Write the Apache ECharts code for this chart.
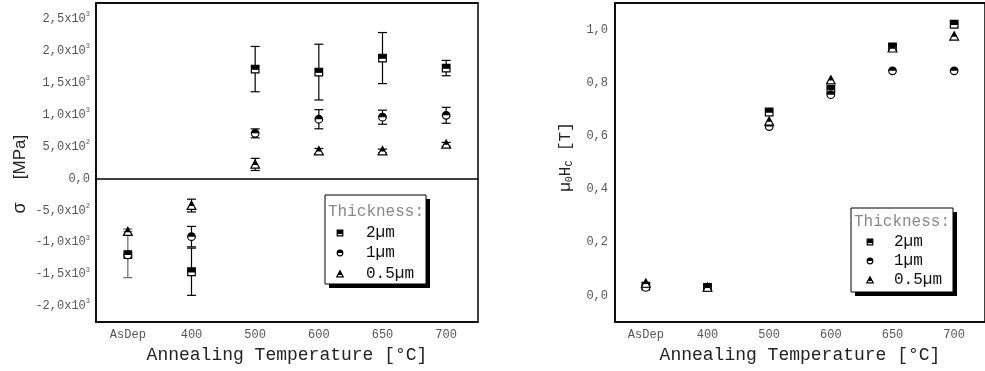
<!DOCTYPE html>
<html>
<head>
<meta charset="utf-8">
<script src="https://cdn.jsdelivr.net/npm/echarts@6/dist/echarts.min.js"></script>
<style>
  html, body { margin: 0; padding: 0; background: #fff; }
  #chart { width: 985px; height: 371px; }
</style>
</head>
<body>
<div id="chart"></div>
<script>
// annealing temperatures (x categories)
const categories = ['AsDep', '400', '500', '600', '650', '700'];

// residual stress sigma [MPa] with error bars
const stress2um = [-1195, -1462, 1714, 1667, 1887, 1730];
const stress2umErr = [360, 370, 355, 437, 400, 120];
const stress1um = [-1200, -912, 707, 928, 960, 990];
const stress1umErr = [30, 160, 70, 150, 110, 125];
const stress05um = [-833, -425, 220, 430, 430, 535];
const stress05umErr = [40, 100, 95, 40, 30, 30];

// coercive field mu0Hc [T]
const hc2um = [0.035, 0.03, 0.69, 0.775, 0.935, 1.02];
const hc1um = [0.03, 0.03, 0.635, 0.755, 0.845, 0.845];
const hc05um = [0.045, 0.03, 0.655, 0.81, 0.93, 0.975];

const legendNames = ['2µm', '1µm', '0.5µm'];
const legendKinds = ['square', 'circle', 'triangle'];

const MONO = 'Liberation Mono';
const chart = echarts.init(document.getElementById('chart'));

// half filled marker, top part black
function marker(kind, x, y, r, part) {
    const outline = { fill: '#fff', stroke: '#000', lineWidth: 1.2 };
    part = part || 0.6;
    if (kind === 'square') {
        return [
            { type: 'rect', shape: { x: x - r, y: y - r, width: 2 * r, height: 2 * r }, style: outline },
            { type: 'rect', shape: { x: x - r, y: y - r, width: 2 * r, height: 2 * r * part }, style: { fill: '#000' } }
        ];
    }
    if (kind === 'circle') {
        return [
            { type: 'circle', shape: { cx: x, cy: y, r: r }, style: outline },
            { type: 'sector', shape: { cx: x, cy: y, r: r, r0: 0, startAngle: Math.PI, endAngle: 2 * Math.PI }, style: { fill: '#000' } }
        ];
    }
    const h = r * 1.15;
    const cut = y - h + (h + r) * part;
    const hw = h * (cut - (y - h)) / (h + r);
    return [
        { type: 'polygon', shape: { points: [[x, y - h], [x + h, y + r], [x - h, y + r]] }, style: outline },
        { type: 'polygon', shape: { points: [[x, y - h], [x + hw, cut], [x - hw, cut]] }, style: { fill: '#000' } }
    ];
}

function pointSeries(name, xIdx, yIdx, vals, errs, kind) {
    return {
        name: name,
        type: 'custom',
        xAxisIndex: xIdx,
        yAxisIndex: yIdx,
        data: vals.map((v, i) => [i, v, errs ? errs[i] : 0]),
        renderItem: function (params, api) {
            const i = api.value(0), v = api.value(1), e = api.value(2);
            const p = api.coord([i, v]);
            const children = [];
            if (e > 0) {
                const t = api.coord([i, v + e])[1];
                const b = api.coord([i, v - e])[1];
                const c = params.dataIndex === 0 ? '#666' : '#000';
                const ls = { stroke: c, lineWidth: 1.2 };
                children.push({ type: 'line', shape: { x1: p[0], y1: t, x2: p[0], y2: b }, style: ls });
                children.push({ type: 'line', shape: { x1: p[0] - 4.5, y1: t, x2: p[0] + 4.5, y2: t }, style: ls });
                children.push({ type: 'line', shape: { x1: p[0] - 4.5, y1: b, x2: p[0] + 4.5, y2: b }, style: ls });
            }
            return { type: 'group', children: children.concat(marker(kind, p[0], p[1], 3.8)) };
        }
    };
}

function sciLabel(v) {
    if (Math.abs(v) < 1e-9) return '{a|0,0}';
    const exp = Math.floor(Math.log10(Math.abs(v)) + 1e-9);
    const mant = v / Math.pow(10, exp);
    return '{a|' + mant.toFixed(1).replace('.', ',') + 'x10}{s|' + exp + '}';
}

const labelRich = {
    a: { fontFamily: MONO, fontSize: 12, color: '#555' },
    s: { fontFamily: MONO, fontSize: 7, color: '#555', verticalAlign: 'top', lineHeight: 16 }
};

function xAxes(grid, withName) {
    const line = { show: true, onZero: false, lineStyle: { color: '#000', width: 1.5 } };
    return [
        {
            type: 'category', gridIndex: grid, position: 'bottom', data: categories,
            axisLine: line,
            axisTick: { inside: true, alignWithLabel: true, length: 5, lineStyle: { color: '#000', width: 1.2 } },
            axisLabel: { fontFamily: MONO, fontSize: 12, color: '#555', margin: 7 },
            name: withName, nameLocation: 'middle', nameGap: 23,
            nameTextStyle: { fontFamily: MONO, fontSize: 18, color: '#222' }
        },
        {
            type: 'category', gridIndex: grid, position: 'bottom', data: categories,
            axisLine: { show: false, onZero: false },
            axisTick: { inside: true, length: 3, lineStyle: { color: '#000' } },
            axisLabel: { show: false }
        },
        {
            type: 'category', gridIndex: grid, position: 'top', data: categories,
            axisLine: line,
            axisTick: { inside: true, alignWithLabel: true, length: 3, lineStyle: { color: '#777' } },
            axisLabel: { show: false }
        },
        {
            type: 'category', gridIndex: grid, position: 'top', data: categories,
            axisLine: { show: false, onZero: false },
            axisTick: { inside: true, length: 2, lineStyle: { color: '#777' } },
            axisLabel: { show: false }
        }
    ];
}

function yAxes(grid, min, max, major, minor, formatter, margin) {
    return [
        {
            type: 'value', gridIndex: grid, position: 'left', min: min, max: max,
            minInterval: major, maxInterval: major, splitNumber: 6,
            axisLine: { show: true, onZero: false, lineStyle: { color: '#000', width: 1.5 } },
            axisTick: { inside: true, length: 5, lineStyle: { color: '#000', width: 1.2 } },
            axisLabel: { showMinLabel: false, showMaxLabel: false, margin: margin, formatter: formatter, rich: labelRich },
            splitLine: { show: false }
        },
        {
            type: 'value', gridIndex: grid, position: 'left', min: min, max: max, interval: minor,
            axisLine: { show: false, onZero: false },
            axisTick: { inside: true, length: 3, lineStyle: { color: '#000' } },
            axisLabel: { show: false },
            splitLine: { show: false }
        }
    ];
}

function legendBox(x, y, w, h, titleY, rowYs, markX, textX) {
    const kids = [
        { type: 'rect', shape: { x: x + 4, y: y + 4, width: w, height: h }, style: { fill: '#000' } },
        { type: 'rect', shape: { x: x, y: y, width: w, height: h }, style: { fill: '#fff', stroke: '#000', lineWidth: 1 } },
        { type: 'text', x: x + 3, y: titleY, style: { text: 'Thickness:', font: '16px "' + MONO + '"', fill: '#888', verticalAlign: 'middle' } }
    ];
    legendNames.forEach((n, k) => {
        marker(legendKinds[k], markX, rowYs[k], 2.8, 0.7).forEach(m => kids.push(m));
        kids.push({ type: 'text', x: textX, y: rowYs[k], style: { text: n, font: '16px "' + MONO + '"', fill: '#111', verticalAlign: 'middle' } });
    });
    return { type: 'group', children: kids };
}

const option = {
    backgroundColor: '#fff',
    animation: false,
    grid: [
        { left: 96, top: 3, width: 382, height: 319, show: true, borderColor: '#000', borderWidth: 1.5 },
        { left: 615, top: 3, width: 381, height: 319, show: true, borderColor: '#000', borderWidth: 1.5 }
    ],
    xAxis: xAxes(0, 'Annealing Temperature [°C]').concat(xAxes(1, 'Annealing Temperature [°C]')).concat([
        {
            // line through sigma = 0
            type: 'category', gridIndex: 0, position: 'bottom', data: categories,
            axisLine: { show: true, onZero: true, onZeroAxisIndex: 0, lineStyle: { color: '#000', width: 1.5 } },
            axisTick: { show: false }, axisLabel: { show: false }
        }
    ]),
    yAxis: yAxes(0, -2250, 2750, 500, 250, sciLabel, 6).concat(
        yAxes(1, -0.1, 1.1, 0.2, 0.1, v => '{a|' + v.toFixed(1).replace('.', ',') + '}', 7)
    ),
    series: [
        pointSeries('2µm', 0, 0, stress2um, stress2umErr, 'square'),
        pointSeries('1µm', 0, 0, stress1um, stress1umErr, 'circle'),
        pointSeries('0.5µm', 0, 0, stress05um, stress05umErr, 'triangle'),
        pointSeries('2µm', 4, 2, hc2um, null, 'square'),
        pointSeries('1µm', 4, 2, hc1um, null, 'circle'),
        pointSeries('0.5µm', 4, 2, hc05um, null, 'triangle')
    ],
    graphic: [
        {
            type: 'text', x: 20, y: 208, rotation: Math.PI / 2,
            style: { text: 'σ', font: '18px "Liberation Sans"', fill: '#222', align: 'center', verticalAlign: 'middle' }
        },
        {
            type: 'text', x: 20, y: 157, rotation: Math.PI / 2,
            style: { text: '[MPa]', font: '17px "Liberation Sans"', fill: '#222', align: 'center', verticalAlign: 'middle' }
        },
        {
            type: 'text', x: 566, y: 157, rotation: Math.PI / 2,
            style: {
                text: '{a|µ}{s|0}{a|H}{s|C}{a| [T]}',
                align: 'center', verticalAlign: 'middle',
                rich: {
                    a: { font: '16px "' + MONO + '"', fill: '#222' },
                    s: { font: '10px "' + MONO + '"', fill: '#222', verticalAlign: 'bottom' }
                }
            }
        },
        legendBox(325, 195, 101, 89, 212, [233, 253, 274], 340, 366),
        legendBox(851, 208, 102, 84, 222, [242, 261, 280], 870, 894)
    ]
};

chart.setOption(option);
</script>
</body>
</html>
